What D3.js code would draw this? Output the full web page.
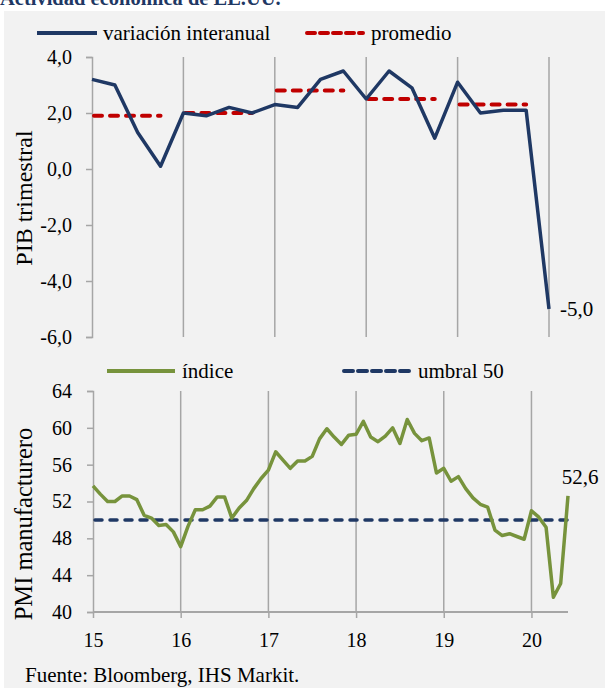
<!DOCTYPE html>
<html>
<head>
<meta charset="utf-8">
<script src="https://cdn.jsdelivr.net/npm/d3@7"></script>
<style>
	body { margin: 0; background: #ffffff; }
	text { font-family: "Liberation Serif", "Times New Roman", serif; fill: #000; }
</style>
</head>
<body>
<div id="graph"></div>
<script>
	// PIB trimestral, variacion interanual (2015T1 .. 2020T1)
	var pibYears = [2015, 2015.25, 2015.5, 2015.75, 2016, 2016.25, 2016.5, 2016.75,
		2017, 2017.25, 2017.5, 2017.75, 2018, 2018.25, 2018.5, 2018.75,
		2019, 2019.25, 2019.5, 2019.75, 2020];
	var pibValues = [3.2, 3.0, 1.3, 0.1, 2.0, 1.9, 2.2, 2.0,
		2.3, 2.2, 3.2, 3.5, 2.5, 3.5, 2.9, 1.1,
		3.1, 2.0, 2.1, 2.1, -5.0];
	// promedio anual
	var avgYears = [2015, 2016, 2017, 2018, 2019];
	var avgValues = [1.9, 2.0, 2.8, 2.5, 2.3];
	var pibTicks = [4, 2, 0, -2, -4, -6];

	// PMI manufacturero mensual (ene 2015 .. jun 2020)
	var pmiValues = [
		53.7, 52.8, 52.0, 52.0, 52.6, 52.6, 52.2, 50.5, 50.2, 49.4, 49.5, 48.7,
		47.1, 49.3, 51.1, 51.1, 51.5, 52.5, 52.5, 50.2, 51.3, 52.1, 53.4, 54.5,
		55.4, 57.4, 56.5, 55.6, 56.4, 56.4, 56.9, 58.8, 59.9, 59.0, 58.2, 59.2,
		59.3, 60.7, 59.0, 58.5, 59.1, 60.0, 58.3, 60.9, 59.4, 58.6, 58.9, 55.1,
		55.6, 54.2, 54.7, 53.4, 52.4, 51.7, 51.4, 48.9, 48.3, 48.5, 48.2, 47.9,
		51.0, 50.3, 49.2, 41.6, 43.1, 52.6];
	var pmiThreshold = 50;
	var pmiTicks = [40, 44, 48, 52, 56, 60, 64];
	var yearTicks = [2015, 2016, 2017, 2018, 2019, 2020];
	var yearLabels = ["15", "16", "17", "18", "19", "20"];

	var w = 605;
	var h = 688;
	var gridColor = "#a6a6a6";
	var navy = "#1f3864";
	var red = "#c00000";
	var green = "#77933c";
	// coma decimal y guion simple
	var fmt = function (v) { return d3.format(".1f")(v).replace(".", ",").replace("\u2212", "-"); };

	var svg = d3.select("#graph")
		.append("svg")
		.attr("width", w)
		.attr("height", h);

	svg.append("rect")
		.attr("x", 4)
		.attr("y", 11)
		.attr("width", w - 4)
		.attr("height", h - 11)
		.attr("fill", "#f2f2f2");

	svg.append("text")
		.attr("x", 0)
		.attr("y", 5)
		.attr("font-size", 20.5)
		.attr("font-weight", "bold")
		.style("fill", navy)
		.text("Actividad económica de EE.UU.");

	// ---------- grafico superior: PIB ----------
	var xTop = d3.scaleLinear()
		.domain([2015, 2020])
		.range([92, 549]);
	var yTop = d3.scaleLinear()
		.domain([-6, 4])
		.range([337, 57]);

	var gTop = svg.append("g").attr("id", "pib");

	gTop.selectAll("line.grid")
		.data(yearTicks.slice(1))
		.enter()
		.append("line")
		.attr("class", "grid")
		.attr("x1", function (d) { return xTop(d); })
		.attr("x2", function (d) { return xTop(d); })
		.attr("y1", yTop(4))
		.attr("y2", yTop(-6))
		.attr("stroke", gridColor)
		.attr("stroke-width", 1.5);

	var yAxisTop = gTop.append("g")
		.attr("transform", "translate(92,0)")
		.call(d3.axisLeft(yTop).tickValues(pibTicks).tickSize(6).tickFormat(fmt));
	yAxisTop.select(".domain").attr("stroke", gridColor).attr("stroke-width", 1.5);
	yAxisTop.selectAll(".tick line").attr("stroke", gridColor).attr("stroke-width", 1.5);
	yAxisTop.selectAll(".tick text")
		.attr("x", -20)
		.attr("font-size", 20)
		.attr("font-family", "Liberation Serif");

	gTop.append("text")
		.attr("transform", "translate(32,198) rotate(-90)")
		.attr("text-anchor", "middle")
		.attr("font-size", 24)
		.text("PIB trimestral");

	gTop.selectAll("line.avg")
		.data(avgYears)
		.enter()
		.append("line")
		.attr("class", "avg")
		.attr("x1", function (d) { return xTop(d); })
		.attr("x2", function (d) { return xTop(d + 0.75); })
		.attr("y1", function (d, i) { return yTop(avgValues[i]); })
		.attr("y2", function (d, i) { return yTop(avgValues[i]); })
		.attr("stroke", red)
		.attr("stroke-width", 4)
		.attr("stroke-dasharray", "8,8")
		.attr("stroke-dashoffset", -2)
		.attr("stroke-linecap", "round");

	var pibLine = d3.line()
		.x(function (d, i) { return xTop(pibYears[i]); })
		.y(function (d) { return yTop(d); });

	gTop.append("path")
		.datum(pibValues)
		.attr("fill", "none")
		.attr("stroke", navy)
		.attr("stroke-width", 3.5)
		.attr("stroke-linejoin", "round")
		.attr("d", pibLine);

	gTop.append("text")
		.attr("x", xTop(2020) + 11)
		.attr("y", yTop(pibValues[pibValues.length - 1]) + 7)
		.attr("font-size", 21)
		.text(fmt(pibValues[pibValues.length - 1]));

	// leyenda superior
	gTop.append("line")
		.attr("x1", 37).attr("x2", 97)
		.attr("y1", 33).attr("y2", 33)
		.attr("stroke", navy)
		.attr("stroke-width", 4);
	gTop.append("text")
		.attr("x", 103).attr("y", 40)
		.attr("font-size", 21)
		.text("variación interanual");
	gTop.append("line")
		.attr("x1", 307).attr("x2", 363)
		.attr("y1", 33).attr("y2", 33)
		.attr("stroke", red)
		.attr("stroke-width", 4)
		.attr("stroke-dasharray", "8,5")
		.attr("stroke-linecap", "round");
	gTop.append("text")
		.attr("x", 371).attr("y", 40)
		.attr("font-size", 21)
		.text("promedio");

	// ---------- grafico inferior: PMI ----------
	var xBot = d3.scaleLinear()
		.domain([0, 65])
		.range([93, 568]);
	var yBot = d3.scaleLinear()
		.domain([40, 64])
		.range([612, 391]);
	var monthOf = function (year) { return (year - 2015) * 12; };

	var gBot = svg.append("g").attr("id", "pmi");

	gBot.selectAll("line.grid")
		.data(yearTicks.slice(1))
		.enter()
		.append("line")
		.attr("class", "grid")
		.attr("x1", function (d) { return xBot(monthOf(d)); })
		.attr("x2", function (d) { return xBot(monthOf(d)); })
		.attr("y1", yBot(64))
		.attr("y2", yBot(40))
		.attr("stroke", gridColor)
		.attr("stroke-width", 1.5);

	var yAxisBot = gBot.append("g")
		.attr("transform", "translate(93,0)")
		.call(d3.axisLeft(yBot).tickValues(pmiTicks).tickSize(6).tickFormat(d3.format("d")));
	yAxisBot.select(".domain").attr("stroke", gridColor).attr("stroke-width", 1.5);
	yAxisBot.selectAll(".tick line").attr("stroke", gridColor).attr("stroke-width", 1.5);
	yAxisBot.selectAll(".tick text")
		.attr("x", -21)
		.attr("font-size", 20)
		.attr("font-family", "Liberation Serif");

	var xAxisBot = gBot.append("g")
		.attr("transform", "translate(0,612)")
		.call(d3.axisBottom(xBot)
			.tickValues(yearTicks.map(monthOf))
			.tickSize(6)
			.tickSizeOuter(0)
			.tickFormat(function (d, i) { return yearLabels[i]; }));
	xAxisBot.select(".domain").attr("stroke", gridColor).attr("stroke-width", 2).attr("d", "M93,0H568");
	xAxisBot.selectAll(".tick line").attr("stroke", gridColor).attr("stroke-width", 1.5);
	xAxisBot.selectAll(".tick text")
		.attr("y", 21)
		.attr("font-size", 20)
		.attr("font-family", "Liberation Serif");

	gBot.append("text")
		.attr("transform", "translate(32,524) rotate(-90)")
		.attr("text-anchor", "middle")
		.attr("font-size", 24.5)
		.text("PMI manufacturero");

	gBot.append("line")
		.attr("x1", xBot(0))
		.attr("x2", xBot(65))
		.attr("y1", yBot(pmiThreshold))
		.attr("y2", yBot(pmiThreshold))
		.attr("stroke", navy)
		.attr("stroke-width", 3.5)
		.attr("stroke-dasharray", "7,8")
		.attr("stroke-dashoffset", -2)
		.attr("stroke-linecap", "round");

	var pmiLine = d3.line()
		.x(function (d, i) { return xBot(i); })
		.y(function (d) { return yBot(d); });

	gBot.append("path")
		.datum(pmiValues)
		.attr("fill", "none")
		.attr("stroke", green)
		.attr("stroke-width", 3.5)
		.attr("stroke-linejoin", "round")
		.attr("d", pmiLine);

	gBot.append("text")
		.attr("x", xBot(65) + 12)
		.attr("y", yBot(pmiValues[pmiValues.length - 1]) - 12)
		.attr("text-anchor", "middle")
		.attr("font-size", 21)
		.text(fmt(pmiValues[pmiValues.length - 1]));

	// leyenda inferior
	gBot.append("line")
		.attr("x1", 107).attr("x2", 175)
		.attr("y1", 371).attr("y2", 371)
		.attr("stroke", green)
		.attr("stroke-width", 4);
	gBot.append("text")
		.attr("x", 182).attr("y", 378)
		.attr("font-size", 21)
		.text("índice");
	gBot.append("line")
		.attr("x1", 344).attr("x2", 410)
		.attr("y1", 371).attr("y2", 371)
		.attr("stroke", navy)
		.attr("stroke-width", 4)
		.attr("stroke-dasharray", "9,5")
		.attr("stroke-linecap", "round");
	gBot.append("text")
		.attr("x", 418).attr("y", 378)
		.attr("font-size", 21)
		.text("umbral 50");

	svg.append("text")
		.attr("x", 25)
		.attr("y", 682)
		.attr("font-size", 21)
		.text("Fuente: Bloomberg, IHS Markit.");
</script>
</body>
</html>
